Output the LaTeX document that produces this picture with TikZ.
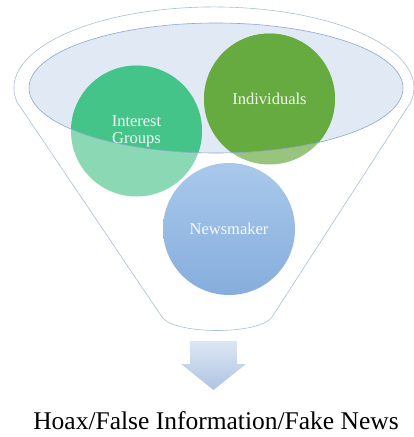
\documentclass[tikz,border=0pt]{standalone}
\usepackage{fontspec}
\setmainfont{Liberation Serif}
\usepackage{tikz}

\definecolor{funnelline}{HTML}{A9BFDC}
\definecolor{rimfill}{HTML}{E1E9F4}
\definecolor{rimline}{HTML}{8EA7CB}
\definecolor{grouplight}{HTML}{8AD8B4}
\definecolor{groupdark}{HTML}{45C489}
\definecolor{indivlight}{HTML}{98C47E}
\definecolor{indivdark}{HTML}{66AB3F}
\definecolor{newstop}{HTML}{A9C9EB}
\definecolor{newsbottom}{HTML}{86ADDC}
\definecolor{arrowtop}{HTML}{DCE6F3}
\definecolor{arrowbottom}{HTML}{AEC5E3}

\begin{document}
\begin{tikzpicture}[
    x=1pt, y=-1pt,
    funnel/.style={draw=funnelline, line width=0.6pt, fill=white},
    rim/.style={draw=rimline, line width=0.6pt},
    bubble/.style={circle, minimum size=131pt, inner sep=0pt, align=center,
                   font=\fontsize{16.5}{17}\selectfont, text=white, text opacity=0.92},
    flowarrow/.style={top color=arrowtop, bottom color=arrowbottom, draw=none},
    caption/.style={font=\fontsize{25.5}{28}\selectfont, text=black},
]
    \useasboundingbox (0,0) rectangle (414,437);

    % Centres
    \coordinate (rimc) at (216,88);
    \coordinate (cg) at (136.5,131);
    \coordinate (ci) at (269.5,99);
    \coordinate (cn) at (229,229);
    \coordinate (flow) at (213.5,341);

    % Funnel body (y axis points down here, so the arc runs through 270)
    \draw[funnel] (17,102) arc[start angle=170, end angle=370, x radius=200, y radius=81]
        -- (272,317) .. controls (260,335) and (174,335) .. (162,317) -- cycle;

    % Rim
    \fill[rimfill] (rimc) ellipse [x radius=187, y radius=65];

    % Circles, paler below the rim
    \fill[grouplight] (cg) circle (65.5);
    \fill[indivlight] (ci) circle (65.5);
    \shade[top color=newstop, bottom color=newsbottom] (cn) circle (66);
    \begin{scope}
        \clip (rimc) ellipse [x radius=187, y radius=65];
        \fill[groupdark] (cg) circle (65.5);
        \fill[indivdark] (ci) circle (65.5);
    \end{scope}
    \draw[rim] (rimc) ellipse [x radius=187, y radius=65];

    % Labels
    \node[bubble] (groups) at (cg) {Interest\\Groups};
    \node[bubble] (indiv) at (ci) {Individuals};
    \node[bubble] (news) at (cn) {Newsmaker};

    % Output arrow
    \path[flowarrow] (flow) ++(-23.5,0) -- ++(47,0) -- ++(0,23) -- ++(9,0)
        -- (213.5,390) -- (181,364) -- ++(9,0) -- cycle;

    \node[caption] (result) at (216,421) {Hoax/False Information/Fake News};
\end{tikzpicture}
\end{document}
